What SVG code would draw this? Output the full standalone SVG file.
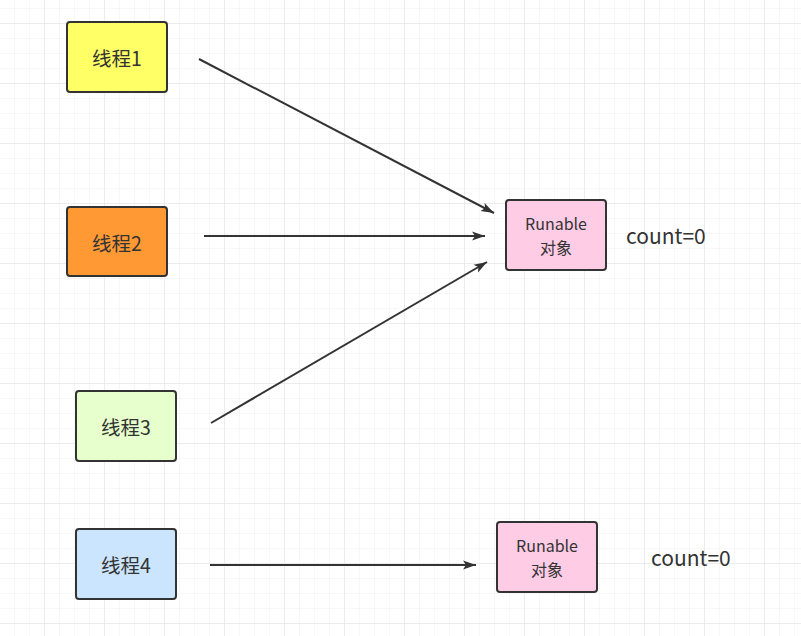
<svg xmlns="http://www.w3.org/2000/svg" width="801" height="636" viewBox="0 0 801 636">
<defs>
<pattern id="minor" x="14" y="8" width="15" height="15" patternUnits="userSpaceOnUse">
<path d="M0,0 H15 M0,0 V15" fill="none" stroke="#efefef" stroke-width="1"/>
</pattern>
<pattern id="major" x="44" y="23" width="60" height="60" patternUnits="userSpaceOnUse">
<path d="M0,0 H60 M0,0 V60" fill="none" stroke="#e2e2e2" stroke-width="1"/>
</pattern>
<marker id="arr" markerWidth="14" markerHeight="10" refX="13" refY="5" orient="auto" markerUnits="userSpaceOnUse">
<path d="M0,0.5 L13,5 L0,9.5 L3,5 z" fill="#333333"/>
</marker>
<style>
.box{stroke:#333333;stroke-width:2}
.lbl{font-family:"Microsoft YaHei","Noto Sans CJK SC","Noto Sans",sans-serif;fill:#333333;text-anchor:middle;dominant-baseline:central}
.t{font-size:19.5px}
.r{font-size:16px}
.c{font-size:21px;text-anchor:start}
.edge{stroke:#333333;stroke-width:2;fill:none;marker-end:url(#arr)}
</style>
</defs>
<rect width="801" height="636" fill="#ffffff"/>
<rect width="801" height="636" fill="url(#minor)"/>
<rect width="801" height="636" fill="url(#major)"/>
<g id="edges">
<line class="edge" x1="199" y1="59" x2="494" y2="213"/>
<line class="edge" x1="204" y1="236" x2="485" y2="236"/>
<line class="edge" x1="211" y1="423" x2="487" y2="262"/>
<line class="edge" x1="210" y1="565" x2="476" y2="565"/>
</g>
<g id="thread1">
<rect class="box" x="67" y="22" width="100" height="70" rx="3" fill="#ffff66"/>
<text class="lbl t" x="117" y="57">线程1</text>
</g>
<g id="thread2">
<rect class="box" x="67" y="207" width="100" height="69" rx="3" fill="#ff9933"/>
<text class="lbl t" x="117" y="242">线程2</text>
</g>
<g id="thread3">
<rect class="box" x="76" y="391" width="100" height="70" rx="3" fill="#e6ffcc"/>
<text class="lbl t" x="126" y="426">线程3</text>
</g>
<g id="thread4">
<rect class="box" x="76" y="529" width="100" height="70" rx="3" fill="#cce5ff"/>
<text class="lbl t" x="126" y="564">线程4</text>
</g>
<g id="runable1">
<rect class="box" x="506" y="200" width="100" height="70" rx="3" fill="#ffcce6"/>
<text class="lbl r" x="556" y="223">Runable</text>
<text class="lbl r" x="556" y="247">对象</text>
</g>
<g id="runable2">
<rect class="box" x="497" y="522" width="100" height="70" rx="3" fill="#ffcce6"/>
<text class="lbl r" x="547" y="545">Runable</text>
<text class="lbl r" x="547" y="569">对象</text>
</g>
<g id="count1">
<text class="lbl c" x="626" y="235">count=0</text>
</g>
<g id="count2">
<text class="lbl c" x="651" y="557">count=0</text>
</g>
</svg>
